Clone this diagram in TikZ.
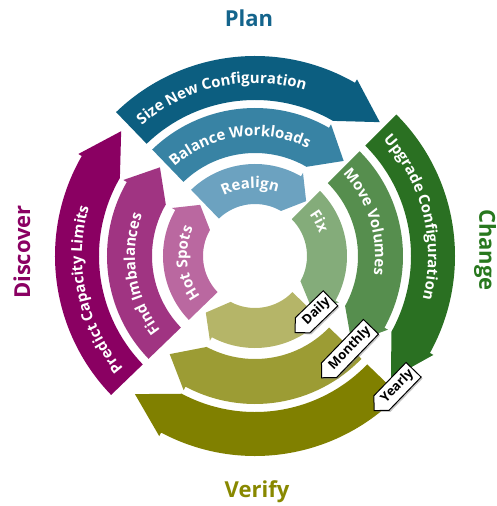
\documentclass[tikz,border=0pt]{standalone}
\usepackage{fontspec}
\usetikzlibrary{decorations.text,shapes.symbols,shadows}
\newfontfamily\segfont{Open Sans}
\definecolor{planA}{RGB}{12,94,128}
\definecolor{planB}{RGB}{56,131,164}
\definecolor{planC}{RGB}{108,162,192}
\definecolor{chgA}{RGB}{42,112,34}
\definecolor{chgB}{RGB}{86,142,78}
\definecolor{chgC}{RGB}{132,172,122}
\definecolor{verA}{RGB}{128,128,0}
\definecolor{verB}{RGB}{156,156,52}
\definecolor{verC}{RGB}{181,181,104}
\definecolor{disA}{RGB}{138,0,98}
\definecolor{disB}{RGB}{160,52,130}
\definecolor{disC}{RGB}{186,104,160}
\definecolor{planT}{RGB}{20,100,140}
\definecolor{chgT}{RGB}{40,120,30}
\definecolor{verT}{RGB}{136,136,0}
\definecolor{disT}{RGB}{138,0,98}
\newcommand\segstyle{\segfont\bfseries\fontsize{15pt}{15pt}\selectfont\color{white}}
% #1 tail angle, #2 inner r, #3 outer r, #4 tip r, #5 colour
\newcommand\ringseg[5]{%
  \pgfmathsetmacro\segT{#1}%
  \pgfmathsetmacro\segB{#1-74}%
  \pgfmathsetmacro\segP{#1-87}%
  \pgfmathsetmacro\segRo{#3+4}%
  \fill[#5] (\segT:#2pt) -- (\segT:#3pt)
    arc[start angle=\segT, end angle=\segB, radius=#3pt]
    -- (\segB:\segRo pt) -- (\segP:#4pt) -- (\segB:#2pt)
    arc[start angle=\segB, end angle=\segT, radius=#2pt] -- cycle;}
% #1 centre angle, #2 half span, #3 baseline radius, #4 text
\newcommand\segtext[4]{%
  \pgfmathsetmacro\txA{#1+#2}%
  \pgfmathsetmacro\txB{#1-#2}%
  \path[decorate,decoration={text along path,text align=center,
    text={|\segstyle|#4}}]
    (\txA:#3pt) arc[start angle=\txA, end angle=\txB, radius=#3pt];}
\tikzset{
  tagbox/.style={signal, signal to=west, draw=black, line width=1pt, fill=white,
    minimum height=21pt, inner xsep=3pt, inner ysep=1pt,
    font=\segfont\bfseries\fontsize{13pt}{13pt}\selectfont, text=black,
    drop shadow={shadow xshift=1.5pt, shadow yshift=-1.5pt, opacity=0.45}},
  biglabel/.style={font=\segfont\bfseries\fontsize{22pt}{22pt}\selectfont}
}
\begin{document}
\begin{tikzpicture}[x=1pt,y=1pt]
\useasboundingbox (-255,256) rectangle (241,-250);
% outer ring
\ringseg{134}{156}{200}{183}{planA}
\ringseg{45}{156}{200}{183}{chgA}
\ringseg{-44}{156}{200}{183}{verA}
\ringseg{224}{156}{200}{183}{disA}
% middle ring
\ringseg{134}{103}{148}{130}{planB}
\ringseg{45}{103}{148}{130}{chgB}
\ringseg{-44}{103}{148}{130}{verB}
\ringseg{224}{103}{148}{130}{disB}
% inner ring
\ringseg{134}{52}{92}{75}{planC}
\ringseg{45}{52}{92}{75}{chgC}
\ringseg{-44}{52}{92}{75}{verC}
\ringseg{224}{52}{92}{75}{disC}
% texts
\segtext{102}{50}{173}{Size New Configuration}
\segtext{98}{55}{120}{Balance Workloads}
\segtext{94}{60}{68}{Realign}
\segtext{192}{50}{173}{Predict Capacity Limits}
\segtext{189}{55}{120}{Find Imbalances}
\segtext{186}{60}{68}{Hot Spots}
\segtext{14}{50}{173}{Upgrade Configuration}
\segtext{17}{55}{120}{Move Volumes}
\segtext{28}{40}{68}{Fix}
% tags
\node[tagbox, rotate=44] (daily) at (61.6,-55.8) {Daily};
\node[tagbox, rotate=46] (monthly) at (95,-92.5) {Monthly};
\node[tagbox, rotate=46] (yearly) at (142.5,-130.4) {Yearly};
% phase labels
\node[biglabel, text=planT, anchor=base] (plan) at (-6,229) {Plan};
\node[biglabel, text=verT, anchor=base] (verify) at (2,-241) {Verify};
\node[biglabel, text=chgT, rotate=-90] (change) at (230,6) {Change};
\node[biglabel, text=disT, rotate=90] (discover) at (-233,4) {Discover};
\end{tikzpicture}
\end{document}
